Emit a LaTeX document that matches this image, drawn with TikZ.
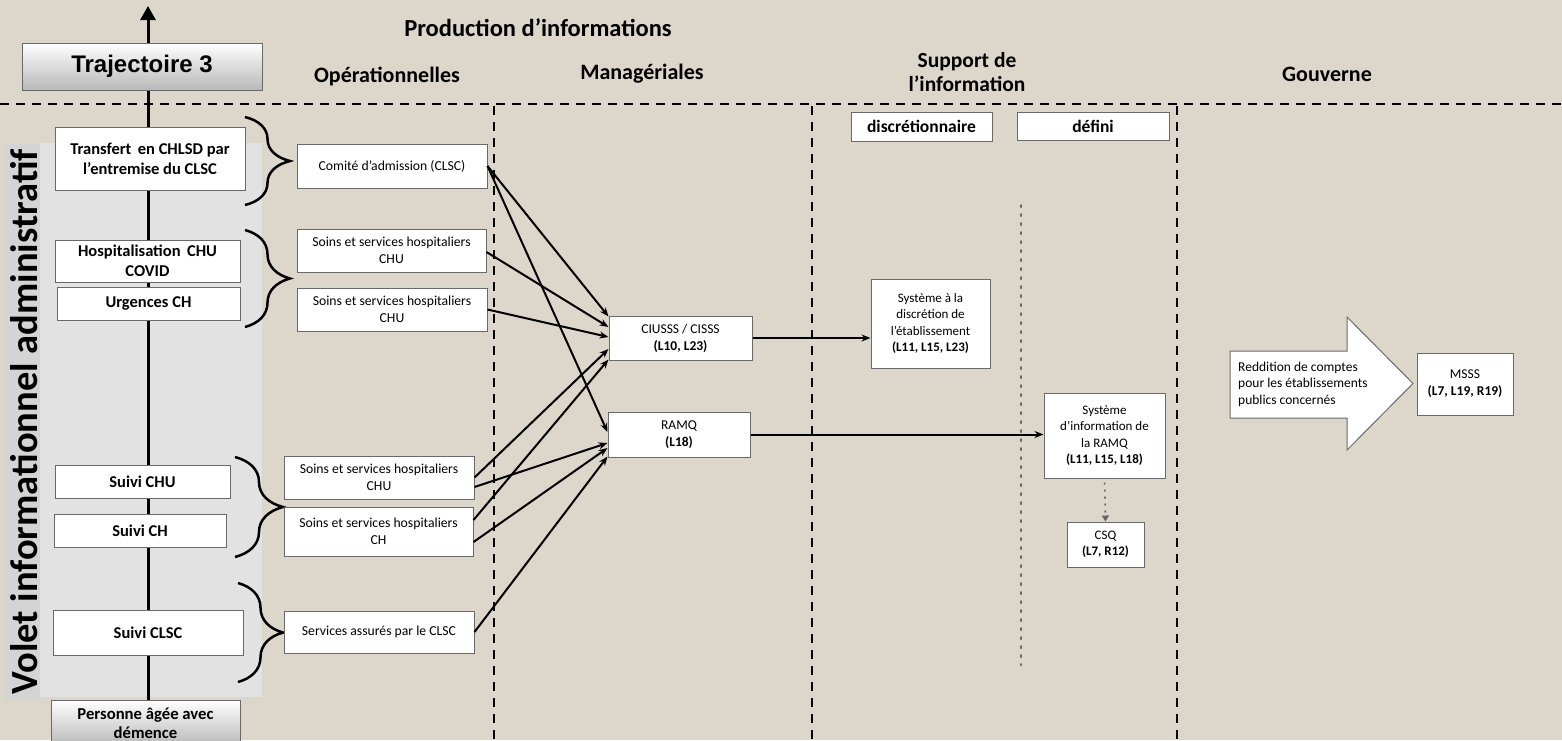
\documentclass[tikz,border=0pt]{standalone}
\usepackage{fontspec}
\setmainfont{Carlito}
\newfontfamily\arialf{Liberation Sans}
\usetikzlibrary{arrows.meta,decorations.pathreplacing,calc}
\definecolor{beige}{RGB}{221,214,203}
\definecolor{panelgray}{RGB}{226,226,226}
\definecolor{stripgray}{RGB}{212,212,212}
\definecolor{boxborder}{RGB}{105,105,105}
\begin{document}
\begin{tikzpicture}[x=1pt,y=-1pt,
 box/.style={draw=boxborder, line width=1pt, fill=white, align=center, inner sep=1pt},
 lbox/.style={box, font=\fontsize{16.5}{20}\selectfont\bfseries},
 obox/.style={box, font=\fontsize{13.7}{17}\selectfont},
 hdr/.style={font=\fontsize{22}{25}\selectfont\bfseries, align=center},
 conn/.style={line width=2pt, -{Stealth[length=9pt,width=7pt]}},
 vdash/.style={line width=2pt, dash pattern=on 9pt off 7pt},
 brc/.style={decorate, decoration={brace, amplitude=#1}, line width=2.5pt},
 gradbox/.style={draw=boxborder, line width=1pt, top color=white, bottom color=black!28, align=center, inner sep=1pt}
]
\useasboundingbox (0,0) rectangle (1562,740);
% background
\fill[beige] (0,0) rectangle (1562,740);
\fill[panelgray] (40,143) rectangle (262,697);
\fill[stripgray] (5,143) rectangle (40,700);

% dashed separators
\draw[vdash] (0,104) -- (1562,104);
\draw[vdash] (494,106) -- (494,740);
\draw[vdash] (812,106) -- (812,740);
\draw[vdash] (1177,106) -- (1177,740);
\draw[line width=2pt, gray!80!black, dash pattern=on 2pt off 7pt, line cap=round] (1021,205) -- (1021,665);

% axis
\node[gradbox, minimum width=189pt, minimum height=46pt, font=\fontsize{16.7}{19}\selectfont\bfseries] (personne) at (145.5,723) {Personne âgée avec\\démence};
\coordinate (axistop) at (148,6);
\draw[line width=3pt, -{Triangle[length=14pt,width=15pt]}] (personne.north -| axistop) -- (axistop);

% vertical title
\node[rotate=90, font=\fontsize{38.5}{40}\selectfont\bfseries] (volet) at (24,422) {Volet informationnel administratif};

% headers
\node[font=\fontsize{24.5}{28}\selectfont\bfseries] (prod) at (538,28) {Production d’informations};
\node[hdr] (oper) at (387,76) {Opérationnelles};
\node[hdr] (manag) at (642,74) {Managériales};
\node[hdr, font=\fontsize{21.5}{24}\selectfont\bfseries] (support) at (967,72) {Support de\\l’information};
\node[hdr] (gouv) at (1327,74) {Gouverne};

\node[gradbox, minimum width=240pt, minimum height=47pt, font=\arialf\fontsize{24}{27}\selectfont\bfseries] (traj) at (142,66.5) {Trajectoire 3};

% left boxes
\node[lbox, minimum width=190pt, minimum height=63pt] (transfert) at (150,158.5) {Transfert\, en CHLSD par\\l’entremise du CLSC};
\node[lbox, minimum width=185pt, minimum height=42pt] (hosp) at (147.5,261) {Hospitalisation\, CHU\\COVID};
\node[lbox, minimum width=183pt, minimum height=33pt] (urg) at (148.5,303.5) {Urgences CH};
\node[lbox, minimum width=175pt, minimum height=33pt] (suivichu) at (142.5,481.5) {Suivi CHU};
\node[lbox, minimum width=172pt, minimum height=33pt] (suivich) at (140,530.5) {Suivi CH};
\node[lbox, minimum width=190pt, minimum height=45pt] (suiviclsc) at (148,632.5) {Suivi CLSC};

% braces
\draw[brc=45] (245,117) -- (245,205);
\draw[brc=45] (245,230) -- (245,327);
\draw[brc=48] (235,457) -- (235,557);
\draw[brc=45] (238,583) -- (238,682);

% operational boxes
\node[obox, minimum width=190pt, minimum height=44pt] (comite) at (392,166) {Comité d’admission (CLSC)};
\node[obox, minimum width=189pt, minimum height=43pt] (soins1) at (391.5,250.5) {Soins et services hospitaliers\\CHU};
\node[obox, minimum width=190pt, minimum height=43pt] (soins2) at (392,309.5) {Soins et services hospitaliers\\CHU};
\node[obox, minimum width=190pt, minimum height=43pt] (soins3) at (379,477.5) {Soins et services hospitaliers\\CHU};
\node[obox, minimum width=189pt, minimum height=49pt] (soinsch) at (378.5,531.5) {Soins et services hospitaliers\\CH};
\node[obox, minimum width=190pt, minimum height=42pt] (services) at (379,632) {Services assurés par le CLSC};

% managerial boxes
\node[obox, font=\fontsize{13.5}{17}\selectfont, minimum width=143pt, minimum height=44pt] (ciusss) at (680.5,338) {CIUSSS / CISSS\\\textbf{(L10, L23)}};
\node[obox, font=\fontsize{13.5}{17}\selectfont, minimum width=142pt, minimum height=45pt] (ramq) at (679,434.5) {RAMQ\\\textbf{(L18)}};

% support boxes
\node[box, font=\fontsize{17.5}{20}\selectfont\bfseries, minimum width=141pt, minimum height=29pt] (discr) at (921.5,126.5) {discrétionnaire};
\node[box, font=\fontsize{17.5}{20}\selectfont\bfseries, minimum width=152pt, minimum height=28pt] (defini) at (1093,126) {défini};
\node[obox, font=\fontsize{13}{16.5}\selectfont, minimum width=119pt, minimum height=89pt] (sysd) at (930.5,323.5) {Système à la\\discrétion de\\l’établissement\\\textbf{(L11, L15, L23)}};
\node[obox, font=\fontsize{13}{16.5}\selectfont, minimum width=121pt, minimum height=85pt] (sysr) at (1104.5,435.5) {Système\\d’information de\\la RAMQ\\\textbf{(L11, L15, L18)}};
\node[obox, font=\fontsize{13}{16.5}\selectfont, minimum width=77pt, minimum height=45pt] (csq) at (1105.5,544.5) {CSQ\\\textbf{(L7, R12)}};

% governance
\draw[boxborder, line width=1pt, fill=white] (1230,351) -- (1347,351) -- (1347,317) -- (1413,383.5) -- (1347,450) -- (1347,418) -- (1230,418) -- cycle;
\node[anchor=west, align=left, font=\fontsize{13.5}{16.5}\selectfont, inner sep=0pt] (reddition) at (1238,384) {Reddition de comptes\\pour les établissements\\publics concernés};
\node[obox, font=\fontsize{13.5}{17}\selectfont, minimum width=96pt, minimum height=62pt] (msss) at (1465,384) {MSSS\\\textbf{(L7, L19, R19)}};

% connectors operational -> managerial
\draw[conn] (comite.east) -- ([yshift=-1pt]ciusss.north west);
\draw[conn] (comite.east) -- ([yshift=2.5pt]ramq.west);
\draw[conn] ([yshift=-1.5pt]soins1.east) -- ([yshift=11pt]ciusss.west);
\draw[conn] (soins2.east) -- ([yshift=1pt]ciusss.west);
\draw[conn] (soins3.east) -- ([yshift=-11pt]ciusss.west);
\draw[conn] ([yshift=-9.5pt]soins3.east) -- ([yshift=-8.5pt]ramq.west);
\draw[conn] ([yshift=11.5pt]soinsch.east) -- ([yshift=1pt]ciusss.south west);
\draw[conn] ([yshift=-10.5pt]soinsch.east) -- ([yshift=-13.5pt]ramq.west);
\draw[conn] (services.east) -- ([yshift=1pt]ramq.south west);

% managerial -> support
\draw[conn] (ciusss.east) -- (ciusss.east -| sysd.west);
\draw[conn] (ramq.east) -- (ramq.east -| sysr.west);
\draw[line width=1.6pt, gray!80!black, dash pattern=on 2pt off 5pt, shorten <=4pt, -{Triangle[length=6pt,width=7pt]}] (sysr.south) -- (csq.north);
\end{tikzpicture}
\end{document}
